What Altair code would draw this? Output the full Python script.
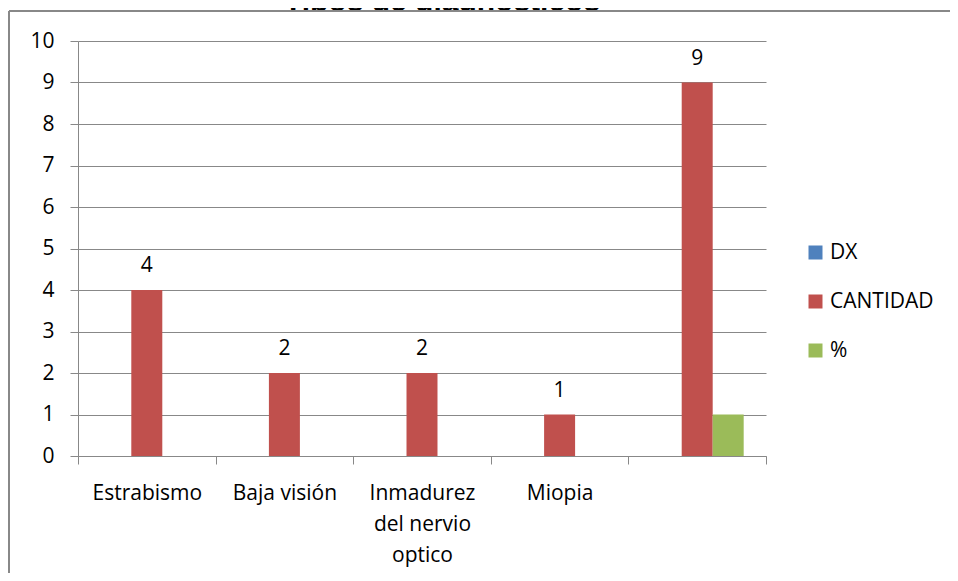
import altair as alt
import pandas as pd

categories = ["Estrabismo", "Baja visión", "Inmadurez del nervio optico", "Miopia", " "]
series = ["DX", "CANTIDAD", "%"]
dx_values = [0, 0, 0, 0, 0]
cantidad_values = [4, 2, 2, 1, 9]
pct_values = [0, 0, 0, 0, 1]
colors = ["#4F81BD", "#C0504D", "#9BBB59"]
y_ticks = list(range(0, 11))
title_text = "Tipos de diagnósticos"

rows = []
for s, vals in zip(series, [dx_values, cantidad_values, pct_values]):
    for c, v in zip(categories, vals):
        rows.append({"cat": c, "series": s, "value": v})
df = pd.DataFrame(rows)

FONT = "Open Sans"
FS = 21
GRAY = "#888888"

x_enc = alt.X(
    "cat:N",
    sort=categories,
    scale=alt.Scale(paddingInner=0, paddingOuter=0),
    axis=alt.Axis(
        title=None,
        labelAngle=0,
        tickBand="extent",
        tickSize=8,
        tickColor=GRAY,
        domainColor=GRAY,
        labelFont=FONT,
        labelFontSize=FS,
        labelColor="#000000",
        labelPadding=18,
        labelLineHeight=31,
        labelLimit=0,
        grid=False,
        labelExpr="datum.value == 'Inmadurez del nervio optico' ? ['Inmadurez', 'del nervio', 'optico'] : datum.label",
    ),
)
xoff_enc = alt.XOffset(
    "series:N", sort=series, scale=alt.Scale(paddingOuter=0.72, paddingInner=0)
)
y_enc = alt.Y(
    "value:Q",
    scale=alt.Scale(domain=[0, 10], nice=False),
    axis=alt.Axis(
        title=None,
        values=y_ticks,
        grid=True,
        gridColor=GRAY,
        domainColor=GRAY,
        tickColor=GRAY,
        tickSize=8,
        labelPadding=16,
        labelFont=FONT,
        labelFontSize=FS,
        labelColor="#000000",
    ),
)

bars = alt.Chart(df).mark_bar(strokeWidth=0).encode(
    x=x_enc,
    xOffset=xoff_enc,
    y=y_enc,
    color=alt.Color(
        "series:N",
        sort=series,
        scale=alt.Scale(domain=series, range=colors),
        legend=alt.Legend(
            title=None,
            orient="none",
            legendX=727,
            legendY=201,
            symbolType="square",
            symbolSize=196,
            symbolStrokeWidth=0,
            labelFont=FONT,
            labelFontSize=FS,
            labelColor="#000000",
            labelOffset=4,
            rowPadding=27,
            padding=0,
        ),
    ),
)

labels = alt.Chart(df).transform_filter(alt.datum.series == "CANTIDAD").mark_text(
    dy=-18, baseline="alphabetic", font=FONT, fontSize=FS, color="#000000"
).encode(
    x=alt.X("cat:N", sort=categories),
    xOffset=alt.XOffset("series:N", sort=series),
    y=alt.Y("value:Q"),
    text=alt.Text("value:Q"),
)

one = pd.DataFrame({"a": [0]})
title = alt.Chart(one).mark_text(
    text=title_text, font="Liberation Sans", fontWeight="bold", fontSize=30,
    baseline="alphabetic", align="center", color="#000000"
).encode(x=alt.value(364), y=alt.value(-30))
cover = alt.Chart(one).mark_rect(color="#ffffff").encode(
    x=alt.value(-68), x2=alt.value(900), y=alt.value(-30), y2=alt.value(-20)
)
frame_top = alt.Chart(one).mark_rule(color=GRAY, strokeWidth=2).encode(
    x=alt.value(-69), x2=alt.value(900), y=alt.value(-30)
)
frame_left = alt.Chart(one).mark_rule(color=GRAY, strokeWidth=2).encode(
    x=alt.value(-69), y=alt.value(-30), y2=alt.value(600)
)

chart = alt.layer(bars, labels, title, cover, frame_top, frame_left).properties(
    width=688,
    height=415,
    autosize=alt.AutoSizeParams(type="none"),
    padding={"left": 70, "top": 33, "right": 184, "bottom": 117},
    background="#ffffff",
).configure_view(strokeWidth=0)

chart.save("out.html", embed_options={"renderer": "svg", "actions": False})
